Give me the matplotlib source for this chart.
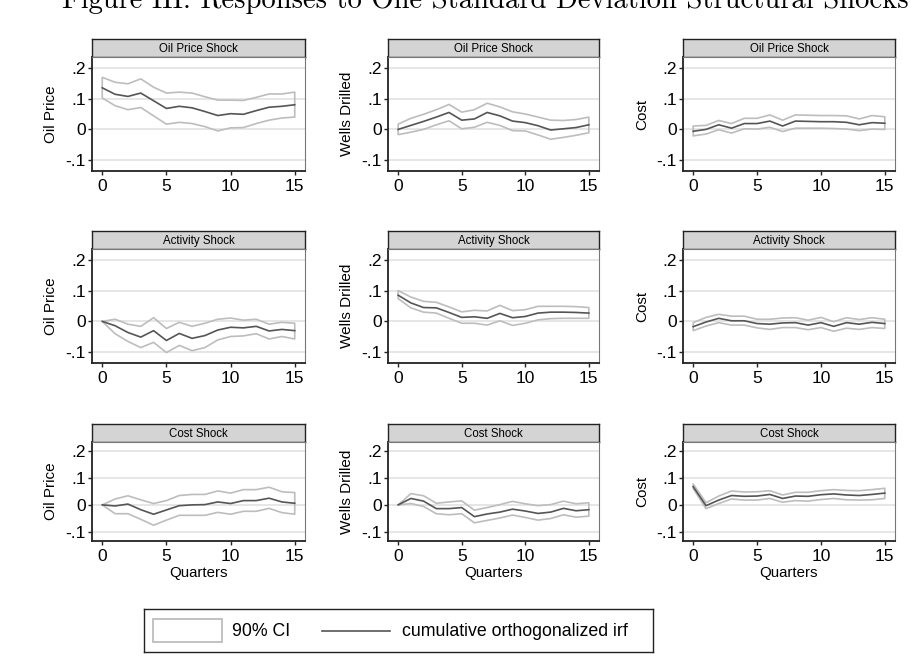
import matplotlib
matplotlib.use('Agg')
import matplotlib.pyplot as plt
import numpy as np

W, H = 914, 666

quarters = list(range(16))
shocks = ['Oil Price Shock', 'Activity Shock', 'Cost Shock']
responses = ['Oil Price', 'Wells Drilled', 'Cost']
yticks = [-0.1, 0, 0.1, 0.2]
ytick_labels = ['-.1', '0', '.1', '.2']
xticks = [0, 5, 10, 15]
title = 'Figure III: Responses to One Standard Deviation Structural Shocks'

# oil price shock
oil_oil_irf = [.135, .114, .107, .118, .093, .068, .075, .070, .058, .045, .051, .049, .061, .072, .075, .080]
oil_oil_hi = [.169, .153, .148, .164, .137, .118, .121, .118, .106, .095, .095, .094, .104, .115, .115, .121]
oil_oil_lo = [.102, .077, .064, .071, .044, .017, .023, .019, .009, -.005, .005, .006, .019, .030, .037, .040]
wells_oil_irf = [0, .013, .026, .040, .055, .030, .034, .055, .044, .027, .022, .012, -.002, .002, .006, .015]
wells_oil_hi = [.017, .036, .049, .064, .081, .056, .064, .085, .073, .057, .050, .040, .030, .029, .032, .040]
wells_oil_lo = [-.017, -.009, 0, .015, .028, .002, .007, .023, .013, -.004, -.005, -.018, -.032, -.026, -.019, -.011]
cost_oil_irf = [-.006, 0, .015, .004, .019, .019, .027, .011, .027, .026, .025, .025, .023, .015, .022, .020]
cost_oil_hi = [.011, .013, .029, .019, .036, .036, .047, .030, .047, .046, .045, .045, .044, .034, .045, .041]
cost_oil_lo = [-.021, -.015, -.001, -.012, .002, .001, .007, -.007, .004, .004, .004, .003, .001, -.004, .001, 0]

# activity shock
oil_act_irf = [0, -.014, -.036, -.051, -.030, -.062, -.039, -.055, -.046, -.028, -.019, -.021, -.016, -.031, -.026, -.030]
oil_act_hi = [0, .007, -.009, -.016, .012, -.023, -.003, -.016, -.006, .007, .011, .004, .007, -.009, -.003, -.006]
oil_act_lo = [0, -.040, -.065, -.085, -.068, -.101, -.078, -.095, -.085, -.060, -.049, -.047, -.040, -.057, -.049, -.057]
wells_act_irf = [.085, .060, .045, .044, .029, .013, .015, .010, .026, .012, .016, .027, .030, .030, .029, .027]
wells_act_hi = [.100, .079, .065, .062, .047, .031, .036, .034, .052, .035, .038, .049, .049, .049, .048, .045]
wells_act_lo = [.074, .044, .030, .027, .010, -.006, -.006, -.012, .002, -.013, -.006, .005, .009, .010, .010, .010]
cost_act_irf = [-.017, -.002, .010, .002, .002, -.007, -.009, -.005, -.004, -.012, -.004, -.016, -.004, -.009, -.003, -.007]
cost_act_hi = [-.004, .013, .023, .017, .017, .007, .007, .011, .012, .004, .013, -.001, .012, .006, .012, .007]
cost_act_lo = [-.030, -.015, -.004, -.012, -.012, -.021, -.026, -.020, -.020, -.027, -.020, -.032, -.022, -.026, -.020, -.023]

# cost shock
oil_cost_irf = [0, -.004, .003, -.018, -.035, -.019, -.003, 0, .001, .011, .005, .016, .016, .025, .011, .006]
oil_cost_hi = [0, .022, .034, .019, .005, .016, .035, .039, .039, .052, .044, .057, .057, .066, .049, .046]
oil_cost_lo = [0, -.033, -.033, -.054, -.076, -.057, -.039, -.039, -.039, -.028, -.035, -.024, -.024, -.013, -.029, -.035]
wells_cost_irf = [0, .024, .014, -.014, -.014, -.010, -.044, -.034, -.027, -.016, -.023, -.032, -.027, -.013, -.022, -.018]
wells_cost_hi = [0, .042, .034, .006, .011, .015, -.020, -.010, .001, .013, .004, -.003, .001, .014, .004, .008]
wells_cost_lo = [0, .005, -.006, -.033, -.037, -.033, -.067, -.058, -.049, -.038, -.047, -.057, -.051, -.037, -.046, -.042]
cost_cost_irf = [.068, -.003, .018, .035, .032, .033, .039, .024, .033, .032, .038, .041, .037, .035, .039, .044]
cost_cost_hi = [.078, .008, .033, .052, .048, .049, .053, .037, .047, .047, .053, .057, .054, .053, .057, .062]
cost_cost_lo = [.061, -.014, .005, .022, .018, .018, .024, .010, .016, .014, .020, .024, .019, .018, .019, .024]

panels = [
    [(oil_oil_irf, oil_oil_lo, oil_oil_hi), (wells_oil_irf, wells_oil_lo, wells_oil_hi), (cost_oil_irf, cost_oil_lo, cost_oil_hi)],
    [(oil_act_irf, oil_act_lo, oil_act_hi), (wells_act_irf, wells_act_lo, wells_act_hi), (cost_act_irf, cost_act_lo, cost_act_hi)],
    [(oil_cost_irf, oil_cost_lo, oil_cost_hi), (wells_cost_irf, wells_cost_lo, wells_cost_hi), (cost_cost_irf, cost_cost_lo, cost_cost_hi)],
]

plt.rcParams['font.family'] = ['Liberation Sans', 'DejaVu Sans']

CI_COLOR = '#bdbdbd'
IRF_COLOR = '#555555'
GRID_COLOR = '#e4e4e4'
HEAD_COLOR = '#d4d4d4'
FRAME = '#222222'


def px_axes(fig, left, top, right, bottom):
    # pixel box (from top-left) -> figure axes
    return fig.add_axes([left / W, 1 - bottom / H, (right - left) / W, (bottom - top) / H])


fig = plt.figure(figsize=(W / 100, H / 100), dpi=100)

cols = [(92, 305), (388, 599), (683, 895)]
rows = [(39, 57, 171), (231, 249, 363), (424, 442, 541)]

for i, (htop, ptop, pbot) in enumerate(rows):
    for j, (left, right) in enumerate(cols):
        irf, lo, hi = panels[i][j]

        hax = px_axes(fig, left, htop, right, ptop)
        hax.set_facecolor(HEAD_COLOR)
        hax.set_xticks([])
        hax.set_yticks([])
        for s in hax.spines.values():
            s.set_color(FRAME)
            s.set_linewidth(1.0)
        hax.text(0.5, 0.45, shocks[i], transform=hax.transAxes, ha='center', va='center', fontsize=8.3)

        ax = px_axes(fig, left, ptop, right, pbot)
        for y in yticks:
            ax.axhline(y, color=GRID_COLOR, lw=1.3, zorder=0)
        ax.fill_between(quarters, lo, hi, facecolor='none', edgecolor=CI_COLOR, lw=1.2, zorder=2)
        ax.plot(quarters, irf, color=IRF_COLOR, lw=1.2, zorder=3)

        ax.set_xlim(-0.8, 15.8)
        ax.set_ylim(-0.135, 0.235)
        ax.set_xticks(xticks)
        ax.set_yticks(yticks)
        ax.set_yticklabels(ytick_labels)
        ax.tick_params(direction='out', length=3, width=1, labelsize=12.5, pad=2.5, color=FRAME)
        ax.tick_params(axis='y', pad=1.5)
        for side in ['left', 'bottom']:
            ax.spines[side].set_color(FRAME)
            ax.spines[side].set_linewidth(1.3)
        for side in ['top', 'right']:
            ax.spines[side].set_color('#777777')
            ax.spines[side].set_linewidth(0.8)

        ax.set_ylabel(responses[j], fontsize=11)
        ax.yaxis.set_label_coords(-34.0 / (right - left), 0.5)
        if i == 2:
            ax.set_xlabel('Quarters', fontsize=10.8)
            ax.xaxis.set_label_coords(0.5, -(566 - pbot) / (pbot - ptop))

# legend drawn in its own box
lax = px_axes(fig, 144, 609, 653, 652)
lax.set_xlim(0, 509)
lax.set_ylim(43, 0)
lax.set_xticks([])
lax.set_yticks([])
for s in lax.spines.values():
    s.set_color(FRAME)
    s.set_linewidth(1.0)
lax.add_patch(plt.Rectangle((9, 10), 69, 23, facecolor='white', edgecolor=CI_COLOR, lw=1.3))
lax.text(88, 22, '90% CI', fontsize=12.8, va='center', ha='left')
lax.plot([178, 246], [22, 22], color=IRF_COLOR, lw=1.2)
lax.text(258, 22, 'cumulative orthogonalized irf', fontsize=12.8, va='center', ha='left')

# page title, cut off by the top edge as in the scanned figure
fig.text(62 / W, 1 - 8 / H, title, family='cmr10', fontsize=20.6, va='baseline', ha='left')

fig.savefig('out.png', dpi=100)
